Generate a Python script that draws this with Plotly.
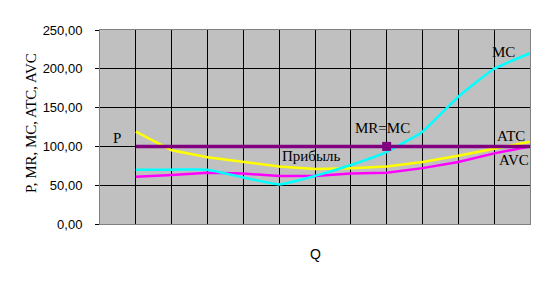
import plotly.graph_objects as go

q = [1, 2, 3, 4, 5, 6, 7, 8, 9, 10, 11, 12]
mc = [70, 70, 70, 60, 51, 62, 76, 93, 119, 164, 200, 220]
atc = [119, 95, 86, 80, 74, 71, 72, 74, 80, 88, 97, 106]
avc = [61, 63, 66, 65, 62, 62, 65, 66, 72, 80, 91, 100]
p_mr = [100] * 12
eq_q = [8]
eq_p = [100]
y_ticks = [0, 50, 100, 150, 200, 250]

serif = "Liberation Serif"
sans = "Liberation Sans"

fig = go.Figure()
fig.add_trace(go.Scatter(x=q, y=atc, mode="lines", line=dict(color="#ffff00", width=2.5)))
fig.add_trace(go.Scatter(x=q, y=avc, mode="lines", line=dict(color="#ff00ff", width=2.5)))
fig.add_trace(go.Scatter(x=q, y=mc, mode="lines",
                         line=dict(color="#00ffff", width=2.5, shape="spline", smoothing=0.4)))
fig.add_trace(go.Scatter(x=q, y=p_mr, mode="lines", line=dict(color="#800080", width=3.5)))
fig.add_trace(go.Scatter(x=eq_q, y=eq_p, mode="markers",
                         marker=dict(symbol="square", size=9, color="#800080")))

labels = [
    ("P", 0.47, 111),
    ("MR=MC", 7.87, 124),
    ("Прибыль", 5.89, 87),
    ("MC", 11.25, 222),
    ("ATC", 11.47, 114),
    ("AVC", 11.55, 82),
]
for t, x, y in labels:
    fig.add_annotation(x=x, y=y, text=t, showarrow=False, xref="x", yref="y",
                       xanchor="center", yanchor="middle",
                       font=dict(family=serif, size=15, color="black"))

fig.add_annotation(xref="x domain", yref="y domain",
                   x=(315 - 100) / 430, y=(224 - 254) / 194,
                   xanchor="center", yanchor="middle",
                   text="Q", showarrow=False,
                   font=dict(family=sans, size=14, color="black"))
fig.add_annotation(xref="paper", yref="paper",
                   x=(31 - 100) / 430, y=(224 - 123) / 194,
                   xanchor="center", yanchor="middle",
                   text="P, MR, MC, ATC, AVC", textangle=-90, showarrow=False,
                   font=dict(family=serif, size=15, color="black"))

fig.update_layout(
    width=546, height=284,
    margin=dict(l=100, r=16, t=30, b=60),
    paper_bgcolor="white",
    plot_bgcolor="#c0c0c0",
    showlegend=False,
    separators=", ",
    xaxis=dict(range=[0, 12], dtick=1, tick0=0, showticklabels=False, showgrid=True,
               gridcolor="black", gridwidth=1, zeroline=False,
               showline=True, linecolor="#808080", mirror=True, ticks=""),
    yaxis=dict(range=[0, 250], tickvals=y_ticks, tickformat=".2f", showgrid=True,
               gridcolor="black", gridwidth=1, zeroline=False,
               showline=True, linecolor="#808080", mirror=True,
               ticks="outside", ticklen=4, tickcolor="black",
               ticklabelstandoff=10,
               tickfont=dict(family=sans, size=13, color="black")),
)

fig.write_html("out.html")
